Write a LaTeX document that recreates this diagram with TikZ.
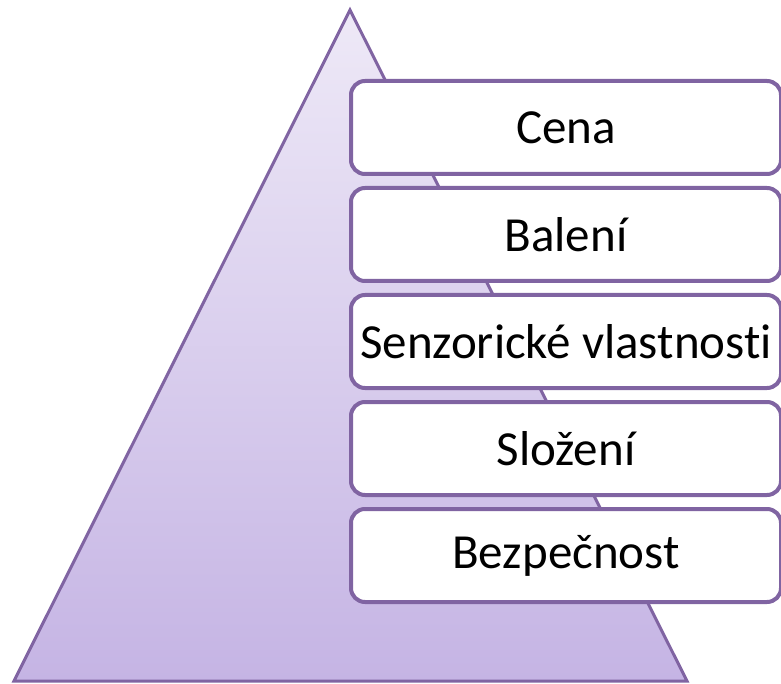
\documentclass[tikz,border=0pt]{standalone}
\usepackage{fontspec}
\setmainfont[Ligatures=NoCommon]{Carlito}
\definecolor{pborder}{HTML}{8064A2}
\definecolor{ptop}{HTML}{EEE9F7}
\definecolor{pbot}{HTML}{C5B4E4}
\tikzset{
  levelbox/.style={draw=pborder, line width=4pt, fill=white, rounded corners=14pt,
    minimum width=430pt, minimum height=93pt, inner sep=0pt, anchor=north west,
    font=\fontsize{49}{58}\selectfont, text=black},
}
\begin{document}
\begin{tikzpicture}[x=1pt,y=-1pt]
\useasboundingbox (0,0) rectangle (781,684);
\coordinate (apex) at (350,10);
\coordinate (bl) at (14,681);
\coordinate (br) at (687,681);
\shade[top color=ptop, bottom color=pbot] (apex) -- (br) -- (bl) -- cycle;
\draw[pborder, line width=3pt, line join=miter] (apex) -- (br) -- (bl) -- cycle;
\node[levelbox] (b1) at (349,79) {Cena};
\node[levelbox] (b2) at (349,186) {Balení};
\node[levelbox] (b3) at (349,293) {Senzorické vlastnosti};
\node[levelbox] (b4) at (349,400) {Složení};
\node[levelbox] (b5) at (349,507) {Bezpečnost};
\end{tikzpicture}
\end{document}
